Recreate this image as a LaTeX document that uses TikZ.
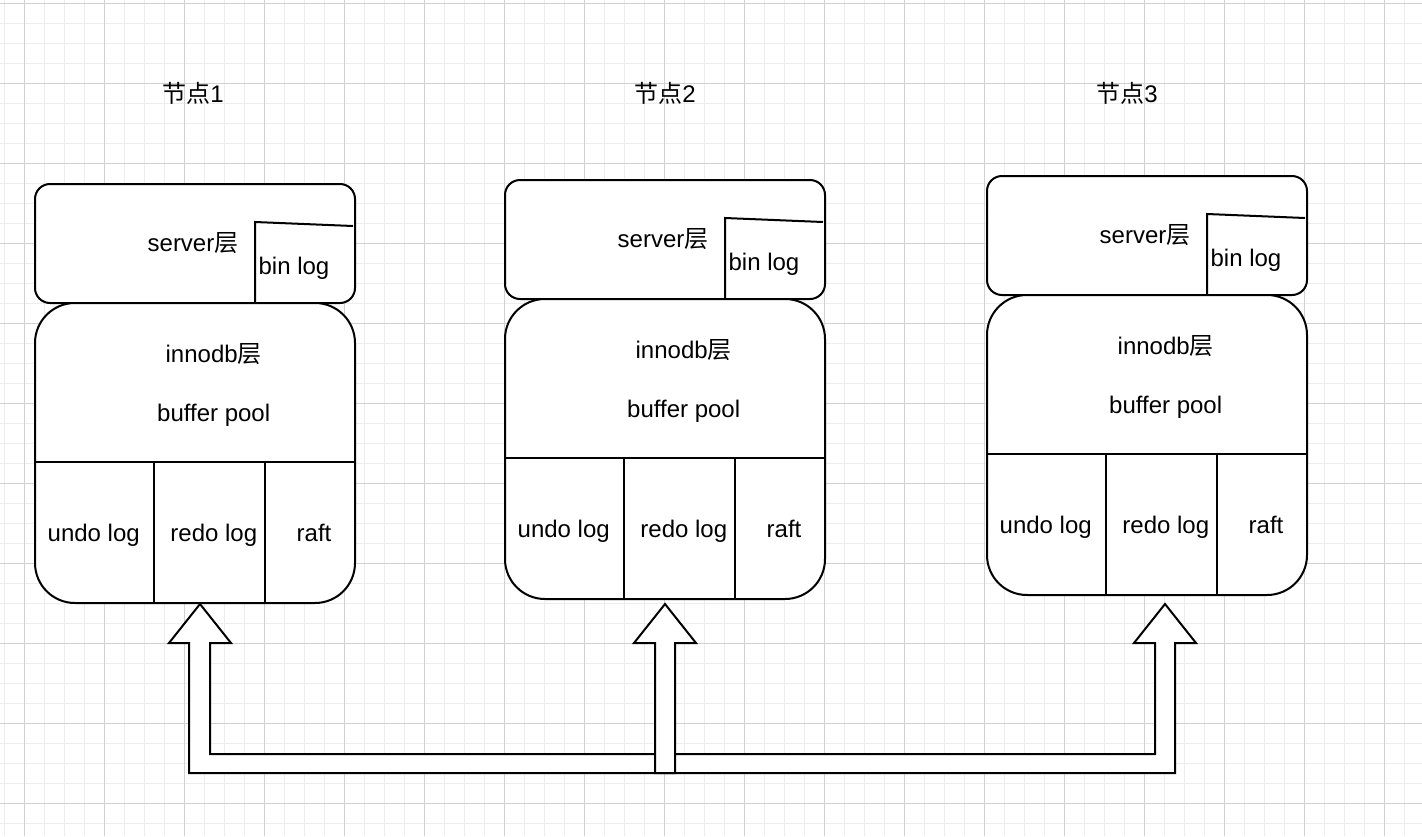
\documentclass[tikz,border=0pt]{standalone}
\usepackage{fontspec}
\setmainfont{Liberation Sans}
\newfontfamily\cjk{Noto Sans CJK SC}
\begin{document}
\begin{tikzpicture}[x=1pt,y=-1pt,
  box/.style={draw=black, line width=2pt, fill=white, inner sep=0pt, outer sep=0pt},
  lbl/.style={inner sep=0pt, font=\fontsize{24}{28}\selectfont, anchor=base},
  part/.style={draw=black, line width=2pt},
  minorgrid/.style={draw=black!7, line width=1pt},
  majorgrid/.style={draw=black!18, line width=1pt},
  flexarrow/.style={draw=black, line width=2pt, fill=white, line join=miter}]
\useasboundingbox (0,0) rectangle (1422,836);
\fill[white] (0,0) rectangle (1422,836);
% grid
\foreach \x in {4,24,...,1420} \draw[minorgrid] (\x,0) -- (\x,836);
\foreach \y in {3,23,...,835} \draw[minorgrid] (0,\y) -- (1422,\y);
\foreach \x in {24,104,...,1420} \draw[majorgrid] (\x,0) -- (\x,836);
\foreach \y in {3,83,...,835} \draw[majorgrid] (0,\y) -- (1422,\y);
% titles
\node[lbl] (title1) at (193,102) {{\cjk 节点}1};
\node[lbl] (title2) at (665,102) {{\cjk 节点}2};
\node[lbl] (title3) at (1127,102) {{\cjk 节点}3};
% columns
\foreach \i/\dx/\dy in {1/0/0,2/470/-4,3/952/-8}{
  \begin{scope}[shift={(\dx,\dy)}]
    \node[box, rounded corners=15pt, minimum width=320pt, minimum height=119pt, anchor=north west] (srv\i) at (35,184) {};
    \node[box, rounded corners=40pt, minimum width=320pt, minimum height=300pt, anchor=north west] (inn\i) at (35,303) {};
    \coordinate (bincorner\i) at (255,222);
    \draw[part] (255,302) -- (bincorner\i) -- (353,226);
    \draw[part] (35,462) -- (355,462);
    \draw[part] (154,462) -- (154,603);
    \draw[part] (265,462) -- (265,603);
    \node[lbl] (srvtxt\i) at (193,251.7) {server{\cjk 层}};
    \node[lbl] (bintxt\i) at (294,274) {bin log};
    \node[lbl] (inntxt\i) at (213.7,362) {innodb{\cjk 层}};
    \node[lbl] (buftxt\i) at (213.7,421.7) {buffer pool};
    \node[lbl] (undotxt\i) at (93.7,541.7) {undo log};
    \node[lbl] (redotxt\i) at (213.8,541.7) {redo log};
    \node[lbl] (rafttxt\i) at (314,541.7) {raft};
  \end{scope}}
% arrows
\coordinate (tipA) at (200,604);
\coordinate (tipB) at (665,604);
\coordinate (tipC) at (1165,604);
\draw[flexarrow] (189,643) -- (189,773) -- (1175,773) -- (1175,643) -- (1196,643) -- (tipC)
  -- (1134,643) -- (1155,643) -- (1155,754) -- (210,754) -- (210,643) -- (231,643) -- (tipA)
  -- (169,643) -- cycle;
\draw[flexarrow] (655,773) -- (655,643) -- (634,643) -- (tipB) -- (696,643) -- (675,643)
  -- (675,773) -- cycle;
\end{tikzpicture}
\end{document}
